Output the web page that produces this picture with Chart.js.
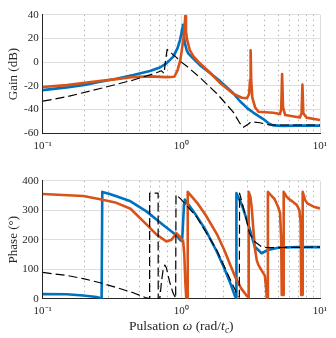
<!DOCTYPE html>
<html>
<head>
<meta charset="utf-8">
<script src="https://cdn.jsdelivr.net/npm/chart.js@4.4.1/dist/chart.umd.min.js"></script>
<style>
  html, body { margin: 0; padding: 0; background: #fff; }
  #fig { position: relative; width: 336px; height: 338px; overflow: hidden; }
  #fig canvas { position: absolute; left: 0; }
  #xlabel {
    position: absolute; left: 42.7px; width: 277.3px; top: 318px;
    text-align: center; white-space: nowrap; line-height: 16px;
    font: 13.5px 'Liberation Serif', 'Times New Roman', serif; color: #262626;
  }
  #xlabel sub { font-size: 9.5px; line-height: 0; vertical-align: -3px; }
</style>
</head>
<body>
<div id="fig">
  <canvas id="gainChart" width="336" height="165" style="top:0"></canvas>
  <canvas id="phaseChart" width="336" height="173" style="top:165px"></canvas>
  <div id="xlabel">Pulsation <i>ω</i> (rad/<i>t</i><sub><i>c</i></sub>)</div>
</div>
<script>
// pulsation (rad/tc) and gain (dB)
const gainBlueW = [0.1, 0.149, 0.2, 0.26, 0.34, 0.45, 0.594, 0.7, 0.78, 0.875, 0.94, 0.98, 1.0, 1.015, 1.026, 1.04, 1.06, 1.09, 1.12, 1.22, 1.36, 1.6, 1.9, 2.36, 2.65, 3.0, 3.3, 3.9, 4.3, 4.6, 5.4, 7.0, 10]
const gainBlue = [-23.6, -21.3, -19.2, -16.5, -14, -10.9, -7.5, -4.5, -1, 4.6, 12, 19, 24, 28.5, 31.5, 24, 16, 10.5, 7.4, 3, -2.5, -9, -16, -26, -33, -39, -42.5, -48, -52, -53.3, -53.7, -53.5, -53.5]

const gainOrangeW = [0.1, 0.149, 0.23, 0.34, 0.45, 0.594, 0.78, 0.89, 0.94, 0.98, 1.0, 1.03, 1.05, 1.068, 1.08, 1.1, 1.15, 1.22, 1.36, 1.6, 1.9, 2.36, 2.73, 2.97, 3.08, 3.13, 3.16, 3.19, 3.25, 3.4, 3.6, 4.6, 5.14, 5.25, 5.33, 5.41, 5.6, 7.16, 7.36, 7.47, 7.58, 8.0, 10]
const gainOrange = [-21, -19.4, -16.5, -14.3, -12.6, -12, -12.6, -12.3, -6.7, 1, 7.4, 18, 27, 39, 26, 19, 10.2, 5, -1, -8.5, -17.5, -26.5, -30, -30.5, -27, -15, 10, -15, -30, -38, -41.8, -42.7, -43.8, -40, -10, -38, -44.5, -46.6, -43, -19, -43, -46.8, -48.8]

const gainBlackW = [0.1, 0.149, 0.26, 0.45, 0.66, 0.72, 0.75, 0.77, 0.79, 0.85, 0.92, 1.0, 1.09, 1.36, 1.8, 2.36, 2.65, 2.8, 3.03, 3.18, 3.69, 4.3, 10]
const gainBlack = [-32.9, -29.2, -22.2, -15.1, -9, -7.3, -9.5, 1.7, 10.7, 7.4, 4, 0, -3.3, -12.9, -26.4, -41.9, -51.7, -55, -52.3, -50.3, -51.1, -53, -53]

// phase (deg)
const phaseBlueW = [0.1, 0.149, 0.196, 0.245, 0.266, 0.269, 0.3, 0.34, 0.43, 0.56, 0.74, 0.92, 0.977, 1.0, 1.015, 1.03, 1.045, 1.06, 1.29, 1.5, 1.8, 2.04, 2.24, 2.44, 2.49, 2.495, 2.6, 2.73, 3.05, 3.39, 3.79, 4.2, 5.0, 7.0, 10]
const phaseBlue = [15.5, 15, 11, 6, 1, 362, 356, 347, 330, 296, 250, 215, 200, 196, 205, 260, 320, 336, 280, 232, 160, 103, 56, 8, 2, 358, 340, 318, 250, 176, 154, 165, 173, 175, 175]

const phaseOrangeW = [0.1, 0.196, 0.26, 0.34, 0.43, 0.56, 0.66, 0.78, 0.85, 0.92, 0.977, 1.0, 1.03, 1.05, 1.07, 1.085, 1.105, 1.112, 1.3, 1.5, 1.8, 2.04, 2.24, 2.44, 2.7, 2.96, 3.05, 3.06, 3.15, 3.22, 3.3, 3.39, 3.5, 3.6, 3.8, 4.0, 4.08, 4.13, 4.2, 4.21, 4.4, 4.7, 5.0, 5.15, 5.25, 5.3, 5.45, 5.47, 5.7, 5.9, 6.4, 6.8, 7.1, 7.25, 7.32, 7.48, 7.5, 7.8, 8.1, 9.0, 10]
const phaseOrange = [355, 348, 337, 325, 305, 252, 218, 194, 200, 222, 210, 202, 195, 150, 50, 3, 3, 362, 325, 283, 220, 165, 118, 75, 35, 10, 5, 362, 345, 306, 240, 172, 130, 114, 95, 78, 40, 3, 3, 362, 352, 338, 310, 290, 200, 13, 13, 362, 348, 340, 328, 318, 300, 260, 13, 13, 362, 335, 323, 312, 306]

const phaseBlackW = [0.1, 0.149, 0.196, 0.26, 0.34, 0.45, 0.55, 0.59, 0.591, 0.68, 0.681, 0.70, 0.72, 0.74, 0.76, 0.78, 0.82, 0.87, 0.91, 0.915, 1.0, 1.06, 1.29, 1.8, 2.24, 2.5, 2.62, 2.63, 2.85, 3.1, 3.39, 3.79, 4.2, 10]
const phaseBlack = [89, 79, 68, 54, 38, 20, 4, 0, 358, 358, 0, 2, 60, 100, 114, 105, 60, 20, 2, 353, 336, 322, 277, 165, 68, 20, 5, 358, 295, 222, 193, 176, 173, 175]

const xTickLabels = { '-1': '10⁻¹', '0': '10⁰', '1': '10¹' }

const SERIF = "'Liberation Serif', 'Times New Roman', serif"
const TEXT = '#262626'
const GRID_MAJOR = '#dedede'
const GRID_MINOR = 'rgba(0,0,0,0.3)'
const BLUE = '#0072BD'
const ORANGE = '#D95319'

const isDecade = v => Math.abs(Math.log10(v) - Math.round(Math.log10(v))) < 1e-6

function points(ws, vs) {
  return ws.map((w, i) => ({ x: w, y: vs[i] }))
}

function makeChart(canvas, lines, yAxis, padTop, xHeight) {
  const ctx = canvas.getContext('2d')
  if (!ctx) throw new Error('no 2d context')
  // first dataset is drawn on top: dashed black, then orange, then blue
  const datasets = [
    { data: points(lines.blackW, lines.black), borderColor: '#000', borderWidth: 1.2, borderDash: [9, 4] },
    { data: points(lines.orangeW, lines.orange), borderColor: ORANGE, borderWidth: 2.6 },
    { data: points(lines.blueW, lines.blue), borderColor: BLUE, borderWidth: 2.6 }
  ].map(d => ({ ...d, pointRadius: 0, tension: 0, fill: false, borderJoinStyle: 'round' }))

  return new Chart(ctx, {
    type: 'line',
    data: { datasets },
    options: {
      responsive: false,
      animation: false,
      events: [],
      layout: { padding: { top: padTop, right: 16, left: 0, bottom: 0 } },
      plugins: { legend: { display: false }, tooltip: { enabled: false } },
      scales: {
        x: {
          type: 'logarithmic',
          min: 0.1,
          max: 10,
          afterFit: s => { s.height = xHeight },
          ticks: {
            autoSkip: false,
            maxRotation: 0,
            minRotation: 0,
            padding: 6,
            color: TEXT,
            font: { family: SERIF, size: 11 },
            callback: v => isDecade(v) ? xTickLabels[Math.round(Math.log10(v))] : ''
          },
          grid: {
            drawTicks: false,
            color: c => (c.tick && !isDecade(c.tick.value)) ? GRID_MINOR : GRID_MAJOR
          },
          border: {
            color: TEXT,
            dash: c => (c.tick && !isDecade(c.tick.value)) ? [1.5, 3.5] : []
          }
        },
        y: {
          type: 'linear',
          min: yAxis.min,
          max: yAxis.max,
          afterFit: s => { s.width = 42.7 },
          ticks: { stepSize: yAxis.step, padding: 4, color: TEXT, font: { family: SERIF, size: 11 } },
          grid: { drawTicks: false, color: GRID_MAJOR },
          border: { color: TEXT },
          title: {
            display: true,
            text: yAxis.title,
            color: TEXT,
            font: { family: SERIF, size: 13 },
            padding: { top: 5.5, bottom: 0 }
          }
        }
      }
    }
  })
}

makeChart(document.getElementById('gainChart'), {
  blueW: gainBlueW, blue: gainBlue,
  orangeW: gainOrangeW, orange: gainOrange,
  blackW: gainBlackW, black: gainBlack
}, { min: -60, max: 40, step: 20, title: 'Gain (dB)' }, 14.7, 31.7)

makeChart(document.getElementById('phaseChart'), {
  blueW: phaseBlueW, blue: phaseBlue,
  orangeW: phaseOrangeW, orange: phaseOrange,
  blackW: phaseBlackW, black: phaseBlack
}, { min: 0, max: 400, step: 100, title: 'Phase (°)' }, 15.7, 39.3)
</script>
</body>
</html>
